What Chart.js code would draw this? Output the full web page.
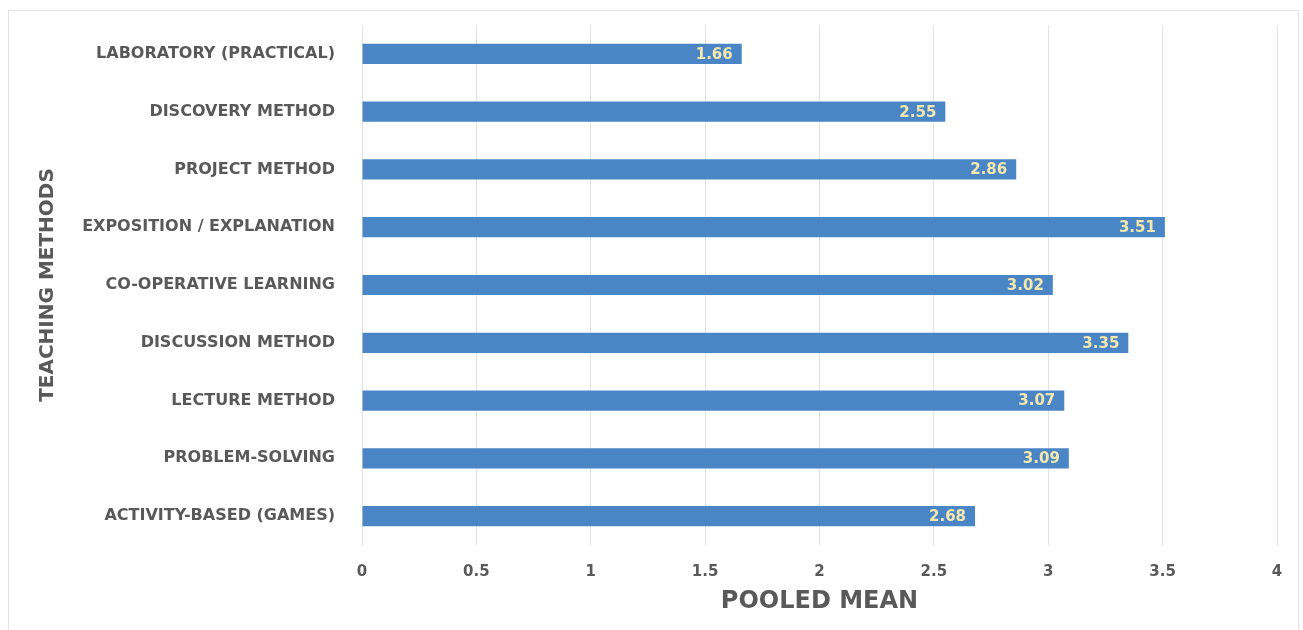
<!DOCTYPE html>
<html>
<head>
<meta charset="utf-8">
<script src="https://cdn.jsdelivr.net/npm/chart.js@4/dist/chart.umd.min.js"></script>
<style>
  html, body { margin: 0; padding: 0; background: #ffffff; }
  #frame { position: absolute; left: 8px; top: 10px; width: 1291px; height: 640px; border: 1px solid #e3e3e3; box-sizing: border-box; }
  #wrap { position: absolute; left: 0; top: 0; width: 1303px; height: 630px; }
</style>
</head>
<body>
<div id="frame"></div>
<div id="wrap"><canvas id="chart" width="1303" height="630"></canvas></div>
<script>
// Teaching methods and their pooled mean scores
const methods = [
  'LABORATORY (PRACTICAL)',
  'DISCOVERY METHOD',
  'PROJECT METHOD',
  'EXPOSITION / EXPLANATION',
  'CO-OPERATIVE LEARNING',
  'DISCUSSION METHOD',
  'LECTURE METHOD',
  'PROBLEM-SOLVING',
  'ACTIVITY-BASED (GAMES)'
];
const pooledMeans = [1.66, 2.55, 2.86, 3.51, 3.02, 3.35, 3.07, 3.09, 2.68];
const xTicks = [0, 0.5, 1, 1.5, 2, 2.5, 3, 3.5, 4];

const labelGrey = '#595959';
const barBlue = '#4a86c6';
const fontFamily = '"DejaVu Sans", sans-serif';

// Writes each bar's value just inside its end
const valueLabels = {
  id: 'valueLabels',
  afterDatasetsDraw(chart) {
    const ctx = chart.ctx;
    const meta = chart.getDatasetMeta(0);
    ctx.save();
    ctx.font = 'bold 15px ' + fontFamily;
    ctx.fillStyle = '#f4e7ad';
    ctx.textAlign = 'right';
    ctx.textBaseline = 'middle';
    meta.data.forEach((bar, i) => {
      ctx.fillText(pooledMeans[i].toFixed(2), bar.x - 9, bar.y + 1);
    });
    ctx.restore();
  }
};

new Chart(document.getElementById('chart'), {
  type: 'bar',
  data: {
    labels: methods,
    datasets: [{
      data: pooledMeans,
      backgroundColor: barBlue,
      categoryPercentage: 1,
      barPercentage: 0.35
    }]
  },
  options: {
    indexAxis: 'y',
    responsive: false,
    animation: false,
    layout: { padding: { left: 0, top: 25, right: 26, bottom: 0 } },
    plugins: { legend: { display: false }, tooltip: { enabled: false } },
    scales: {
      x: {
        min: 0,
        max: 4,
        afterBuildTicks(scale) { scale.ticks = xTicks.map(v => ({ value: v })); },
        afterFit(scale) { scale.height = 85; },
        grid: { color: '#e2e2e2', drawTicks: false, lineWidth: 1 },
        border: { display: false },
        ticks: {
          padding: 18,
          color: labelGrey,
          font: { family: fontFamily, size: 15, weight: 'bold' },
          callback: (v) => String(v)
        },
        title: {
          display: true,
          text: 'POOLED MEAN',
          color: labelGrey,
          padding: { top: 0, bottom: 14 },
          font: { family: fontFamily, size: 24, weight: 'bold' }
        }
      },
      y: {
        afterFit(scale) {
          scale.width = 362;
          scale.paddingTop = 0;
          scale.paddingBottom = 0;
        },
        grid: { display: false, drawTicks: false },
        border: { display: false },
        ticks: {
          padding: 27,
          color: labelGrey,
          font: { family: fontFamily, size: 16, weight: 'bold' }
        },
        title: {
          display: true,
          text: 'TEACHING METHODS',
          color: labelGrey,
          padding: { top: 36, bottom: 0 },
          font: { family: fontFamily, size: 20, weight: 'bold' }
        }
      }
    }
  },
  plugins: [valueLabels]
});
</script>
</body>
</html>
